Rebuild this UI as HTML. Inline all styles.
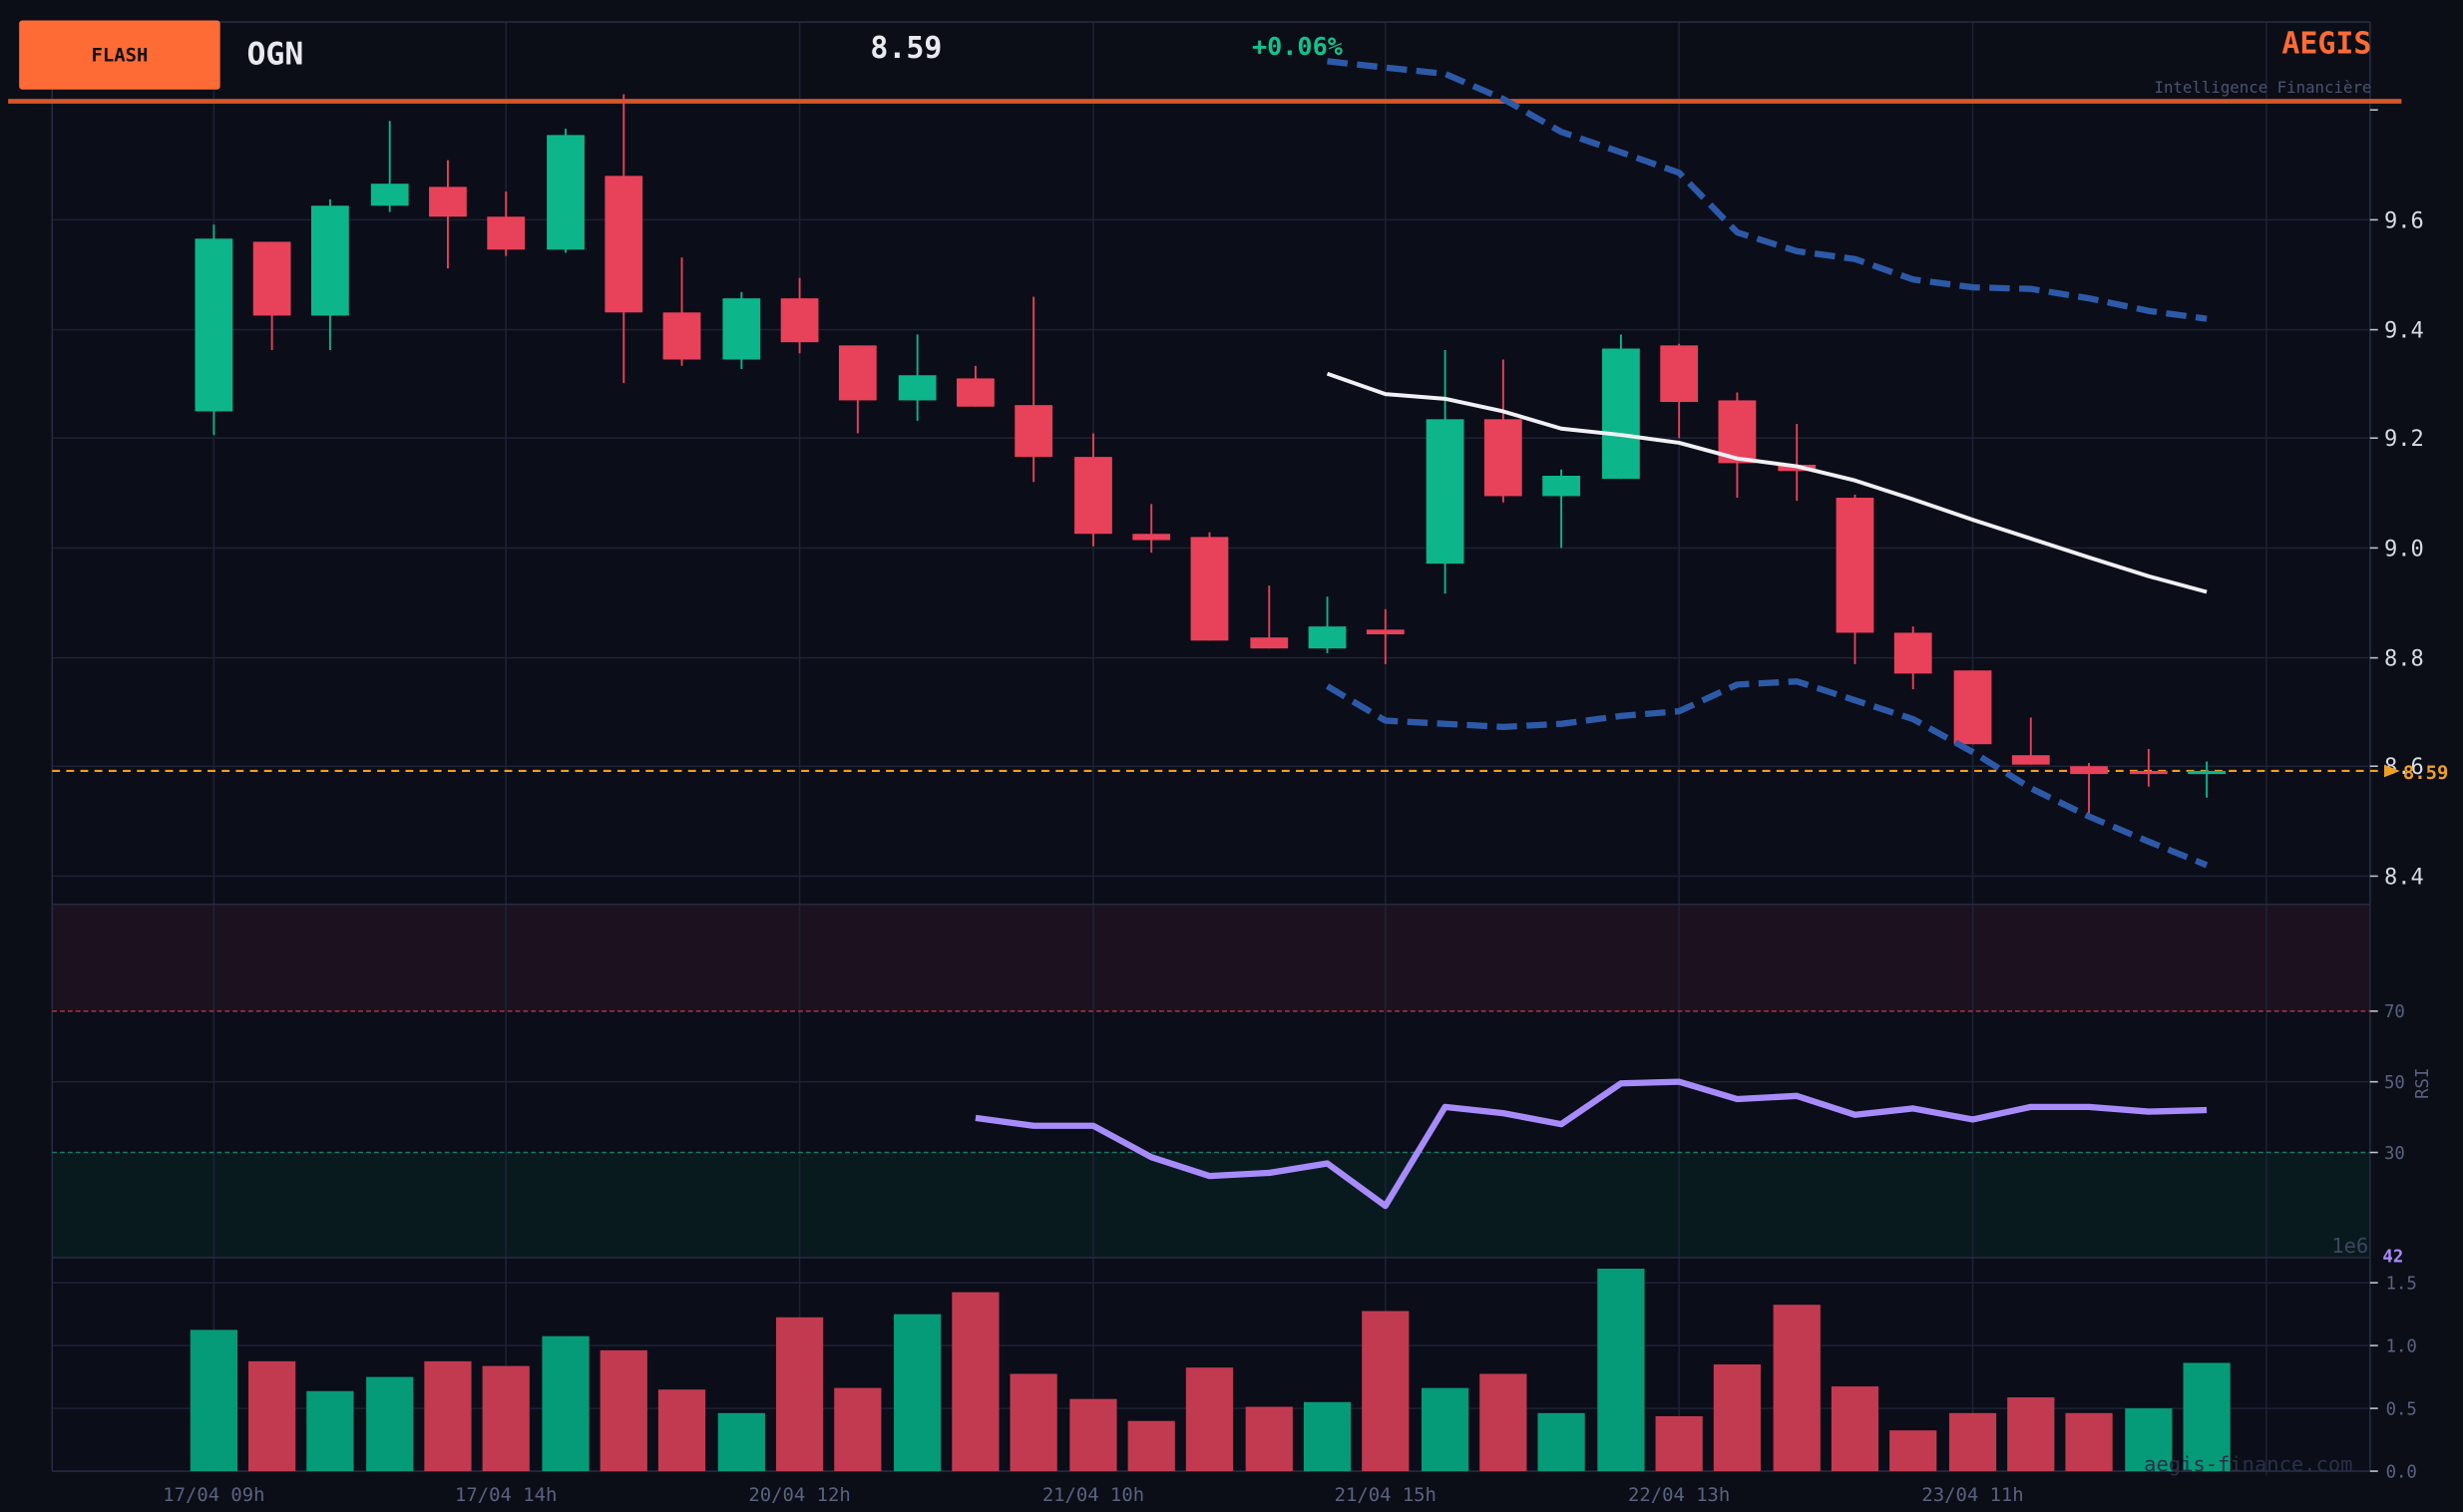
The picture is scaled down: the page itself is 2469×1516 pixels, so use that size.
<!DOCTYPE html>
<html><head><meta charset="utf-8"><style>
html,body{margin:0;padding:0;background:#0b0e17;}
svg{display:block;}
text{font-family:"DejaVu Sans Mono","Liberation Mono",monospace;}
</style></head><body>
<svg width="2469" height="1516" viewBox="0 0 1568 963" xmlns="http://www.w3.org/2000/svg">
<rect x="0" y="0" width="1568" height="963" fill="#0b0e17"/>
<rect x="33" y="68" width="1476" height="869" fill="#0b0d18"/>
<!-- RSI zones -->
<rect x="33" y="576" width="1476" height="68" fill="#1c121f"/>
<rect x="33" y="734" width="1476" height="67" fill="#091a1f"/>
<!-- grid -->
<g stroke="#1c2235" stroke-width="1">
<line x1="136" y1="14" x2="136" y2="937"/><line x1="322" y1="14" x2="322" y2="937"/><line x1="509" y1="14" x2="509" y2="937"/><line x1="696" y1="14" x2="696" y2="937"/><line x1="882" y1="14" x2="882" y2="937"/><line x1="1069" y1="14" x2="1069" y2="937"/><line x1="1256" y1="14" x2="1256" y2="937"/><line x1="1443" y1="14" x2="1443" y2="940"/>
<line x1="33" y1="140" x2="1509" y2="140"/><line x1="33" y1="210" x2="1509" y2="210"/><line x1="33" y1="279" x2="1509" y2="279"/><line x1="33" y1="349" x2="1509" y2="349"/><line x1="33" y1="419" x2="1509" y2="419"/><line x1="33" y1="488" x2="1509" y2="488"/><line x1="33" y1="558" x2="1509" y2="558"/>
<line x1="33" y1="689" x2="1509" y2="689"/>
<line x1="33" y1="817" x2="1509" y2="817"/><line x1="33" y1="857" x2="1509" y2="857"/><line x1="33" y1="897" x2="1509" y2="897"/>
</g>
<g stroke="#252b42" fill="none" stroke-width="1">
<line x1="33" y1="14" x2="1509" y2="14"/>
<line x1="33" y1="14" x2="33" y2="937"/><line x1="1509" y1="14" x2="1509" y2="937"/>
<line x1="33" y1="576" x2="1509" y2="576"/><line x1="33" y1="801" x2="1509" y2="801"/><line x1="33" y1="937" x2="1509" y2="937"/>
</g>
<line x1="33" y1="644" x2="1509" y2="644" stroke="#9a3448" stroke-dasharray="3,2"/>
<line x1="33" y1="734" x2="1509" y2="734" stroke="#137a66" stroke-dasharray="3,2"/>
<!-- header -->
<rect x="12" y="13" width="128" height="44" rx="2" fill="#ff6b35"/>
<text x="76" y="39" fill="#111" font-size="12" font-weight="bold" text-anchor="middle">FLASH</text>
<text x="157" y="41" fill="#e8eaf0" font-size="20" font-weight="bold">OGN</text>
<text x="554" y="37" fill="#e8eaf0" font-size="19" font-weight="bold">8.59</text>
<text x="797" y="35" fill="#10c28e" font-size="16" font-weight="bold">+0.06%</text>
<text x="1510" y="34" fill="#ff6b35" font-size="19" font-weight="bold" text-anchor="end">AEGIS</text>
<text x="1510" y="59" fill="#4a5270" font-size="10" text-anchor="end">Intelligence Financière</text>
<rect x="5" y="63" width="1524" height="3" fill="#d4572a"/>
<!-- price line -->
<line x1="33" y1="491" x2="1515" y2="491" stroke="#f0a020" stroke-dasharray="5,4" stroke-width="1.3"/>
<!-- candles wicks -->
<g stroke-width="1.2">
<g stroke="#0db58a">
<line x1="136" y1="143" x2="136" y2="277"/><line x1="210" y1="127" x2="210" y2="223"/><line x1="248" y1="77" x2="248" y2="135"/><line x1="360" y1="82" x2="360" y2="161"/><line x1="472" y1="186" x2="472" y2="235"/><line x1="584" y1="213" x2="584" y2="268"/><line x1="845" y1="380" x2="845" y2="416"/><line x1="920" y1="223" x2="920" y2="378"/><line x1="994" y1="299" x2="994" y2="349"/><line x1="1032" y1="213" x2="1032" y2="305"/><line x1="1405" y1="485" x2="1405" y2="508"/>
</g>
<g stroke="#e8415a">
<line x1="173" y1="154" x2="173" y2="223"/><line x1="285" y1="102" x2="285" y2="171"/><line x1="322" y1="122" x2="322" y2="163"/><line x1="397" y1="60" x2="397" y2="244"/><line x1="434" y1="164" x2="434" y2="233"/><line x1="509" y1="177" x2="509" y2="225"/><line x1="546" y1="220" x2="546" y2="276"/><line x1="621" y1="233" x2="621" y2="259"/><line x1="658" y1="189" x2="658" y2="307"/><line x1="696" y1="276" x2="696" y2="348"/><line x1="733" y1="321" x2="733" y2="352"/><line x1="770" y1="339" x2="770" y2="408"/><line x1="808" y1="373" x2="808" y2="413"/><line x1="882" y1="388" x2="882" y2="423"/><line x1="957" y1="229" x2="957" y2="320"/><line x1="1069" y1="219" x2="1069" y2="279"/><line x1="1106" y1="250" x2="1106" y2="317"/><line x1="1144" y1="270" x2="1144" y2="319"/><line x1="1181" y1="315" x2="1181" y2="423"/><line x1="1218" y1="399" x2="1218" y2="439"/><line x1="1256" y1="427" x2="1256" y2="474"/><line x1="1293" y1="457" x2="1293" y2="487"/><line x1="1330" y1="486" x2="1330" y2="519"/><line x1="1368" y1="477" x2="1368" y2="501"/>
</g></g>
<g fill="#0db58a">
<rect x="124" y="152" width="24" height="110"/><rect x="198" y="131" width="24" height="70"/><rect x="236" y="117" width="24" height="14"/><rect x="348" y="86" width="24" height="73"/><rect x="460" y="190" width="24" height="39"/><rect x="572" y="239" width="24" height="16"/><rect x="833" y="399" width="24" height="14"/><rect x="908" y="267" width="24" height="92"/><rect x="982" y="303" width="24" height="13"/><rect x="1020" y="222" width="24" height="83"/><rect x="1393" y="491" width="24" height="2"/>
</g>
<g fill="#e8415a">
<rect x="161" y="154" width="24" height="47"/><rect x="273" y="119" width="24" height="19"/><rect x="310" y="138" width="24" height="21"/><rect x="385" y="112" width="24" height="87"/><rect x="422" y="199" width="24" height="30"/><rect x="497" y="190" width="24" height="28"/><rect x="534" y="220" width="24" height="35"/><rect x="609" y="241" width="24" height="18"/><rect x="646" y="258" width="24" height="33"/><rect x="684" y="291" width="24" height="49"/><rect x="721" y="340" width="24" height="4"/><rect x="758" y="342" width="24" height="66"/><rect x="796" y="406" width="24" height="7"/><rect x="870" y="401" width="24" height="3"/><rect x="945" y="267" width="24" height="49"/><rect x="1057" y="220" width="24" height="36"/><rect x="1094" y="255" width="24" height="40"/><rect x="1132" y="296" width="24" height="4"/><rect x="1169" y="317" width="24" height="86"/><rect x="1206" y="403" width="24" height="26"/><rect x="1244" y="427" width="24" height="47"/><rect x="1281" y="481" width="24" height="6"/><rect x="1318" y="488" width="24" height="5"/><rect x="1356" y="491" width="24" height="2"/>
</g>
<!-- bollinger -->
<g fill="none" stroke-linejoin="round">
<polyline stroke="#2d5aa8" stroke-width="4" stroke-dasharray="13,6" points="845,39 882,43 920,47 957,63 994,84 1032,97 1069,110 1106,148 1144,160 1181,165 1218,178 1256,183 1293,184 1330,190 1368,198 1405,203"/>
<polyline stroke="#2d5aa8" stroke-width="4" stroke-dasharray="13,6" points="845,437 882,459 920,461 957,463 994,461 1032,456 1069,453 1106,436 1144,434 1181,446 1218,458 1256,479 1293,502 1330,520 1368,536 1405,551"/>
<polyline stroke="#f0f0f5" stroke-width="2.5" points="845,238 882,251 920,254 957,262 994,273 1032,277 1069,282 1106,292 1144,297 1181,306 1218,318 1256,331 1293,343 1330,355 1368,367 1405,377"/>
<polyline stroke="#a78bfa" stroke-width="4" points="621,712 658,717 696,717 733,737 770,749 808,747 845,741 882,768 920,705 957,709 994,716 1032,690 1069,689 1106,700 1144,698 1181,710 1218,706 1256,713 1293,705 1330,705 1368,708 1405,707"/>
</g>
<!-- volume -->
<g fill="#059a78">
<rect x="121" y="847" width="30" height="90"/><rect x="195" y="886" width="30" height="51"/><rect x="233" y="877" width="30" height="60"/><rect x="345" y="851" width="30" height="86"/><rect x="457" y="900" width="30" height="37"/><rect x="569" y="837" width="30" height="100"/><rect x="830" y="893" width="30" height="44"/><rect x="905" y="884" width="30" height="53"/><rect x="979" y="900" width="30" height="37"/><rect x="1017" y="808" width="30" height="129"/><rect x="1353" y="897" width="30" height="40"/><rect x="1390" y="868" width="30" height="69"/>
</g>
<g fill="#c23a50">
<rect x="158" y="867" width="30" height="70"/><rect x="270" y="867" width="30" height="70"/><rect x="307" y="870" width="30" height="67"/><rect x="382" y="860" width="30" height="77"/><rect x="419" y="885" width="30" height="52"/><rect x="494" y="839" width="30" height="98"/><rect x="531" y="884" width="30" height="53"/><rect x="606" y="823" width="30" height="114"/><rect x="643" y="875" width="30" height="62"/><rect x="681" y="891" width="30" height="46"/><rect x="718" y="905" width="30" height="32"/><rect x="755" y="871" width="30" height="66"/><rect x="793" y="896" width="30" height="41"/><rect x="867" y="835" width="30" height="102"/><rect x="942" y="875" width="30" height="62"/><rect x="1054" y="902" width="30" height="35"/><rect x="1091" y="869" width="30" height="68"/><rect x="1129" y="831" width="30" height="106"/><rect x="1166" y="883" width="30" height="54"/><rect x="1203" y="911" width="30" height="26"/><rect x="1241" y="900" width="30" height="37"/><rect x="1278" y="890" width="30" height="47"/><rect x="1315" y="900" width="30" height="37"/>
</g>
<!-- axis ticks -->
<g stroke="#c0c4d0" stroke-width="1">
<line x1="1509" y1="70" x2="1514" y2="70"/><line x1="1509" y1="140" x2="1514" y2="140"/><line x1="1509" y1="210" x2="1514" y2="210"/><line x1="1509" y1="279" x2="1514" y2="279"/><line x1="1509" y1="349" x2="1514" y2="349"/><line x1="1509" y1="419" x2="1514" y2="419"/><line x1="1509" y1="488" x2="1514" y2="488"/><line x1="1509" y1="558" x2="1514" y2="558"/>
<line x1="1509" y1="644" x2="1514" y2="644"/><line x1="1509" y1="689" x2="1514" y2="689"/><line x1="1509" y1="734" x2="1514" y2="734"/>
<line x1="1509" y1="817" x2="1514" y2="817"/><line x1="1509" y1="857" x2="1514" y2="857"/><line x1="1509" y1="897" x2="1514" y2="897"/><line x1="1509" y1="937" x2="1514" y2="937"/>
</g>
<g fill="#d8dbe4" font-size="14">
<text x="1518" y="145">9.6</text><text x="1518" y="215">9.4</text><text x="1518" y="284">9.2</text><text x="1518" y="354">9.0</text><text x="1518" y="424">8.8</text><text x="1518" y="493">8.6</text><text x="1518" y="563">8.4</text>
</g>
<polygon points="1518,487 1528,491 1518,495" fill="#f0a020"/>
<text x="1530" y="496" fill="#f0a020" font-size="12" font-weight="bold">8.59</text>
<g fill="#5a6280" font-size="11">
<text x="1518" y="648">70</text><text x="1518" y="693">50</text><text x="1518" y="738">30</text>
<text x="1519" y="821">1.5</text><text x="1519" y="861">1.0</text><text x="1519" y="901">0.5</text><text x="1519" y="941">0.0</text>
</g>
<text x="1546" y="690" fill="#5a6280" font-size="11" transform="rotate(-90 1546 690)" text-anchor="middle">RSI</text>
<text x="1517" y="804" fill="#a78bfa" font-size="11" font-weight="bold">42</text>
<text x="1508" y="798" fill="#3e4560" font-size="13" text-anchor="end">1e6</text>
<text x="1498" y="937" fill="#2a3048" font-size="13" text-anchor="end">aegis-finance.com</text>
<g fill="#5a6280" font-size="12" text-anchor="middle">
<text x="136" y="956">17/04 09h</text><text x="322" y="956">17/04 14h</text><text x="509" y="956">20/04 12h</text><text x="696" y="956">21/04 10h</text><text x="882" y="956">21/04 15h</text><text x="1069" y="956">22/04 13h</text><text x="1256" y="956">23/04 11h</text>
</g>
</svg>
</body></html>
